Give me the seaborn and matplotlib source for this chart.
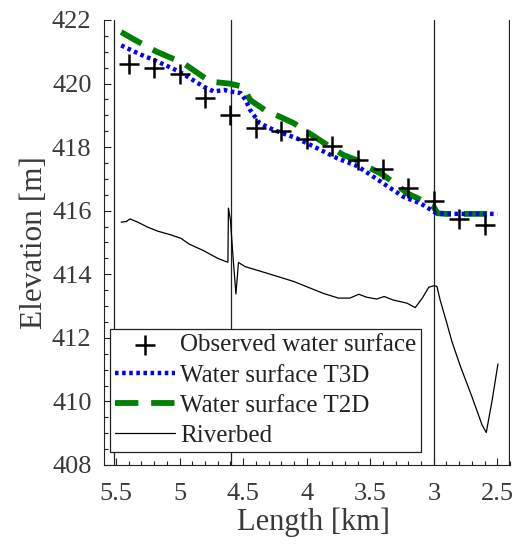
import numpy as np
import pandas as pd
import seaborn as sns
from matplotlib import pyplot as plt
from matplotlib.ticker import MultipleLocator

# observed water surface
obs_km = [5.4, 5.2, 5.0, 4.8, 4.6, 4.4, 4.2, 4.0, 3.8, 3.6, 3.4, 3.2, 3.0, 2.8, 2.6]
obs_elev = [420.6, 420.5, 420.3, 419.55, 419.0, 418.6, 418.5, 418.25, 418.05,
            417.6, 417.3, 416.7, 416.3, 415.75, 415.55]

# Telemac 3D water surface
t3d_km = [5.46, 5.3, 5.2, 5.0, 4.81, 4.73, 4.65, 4.6, 4.52, 4.48, 4.445, 4.37,
          4.26, 4.08, 3.92, 3.76, 3.6, 3.42, 3.24, 3.1, 2.98, 2.9, 2.5]
t3d_elev = [421.2, 420.9, 420.74, 420.37, 419.9, 419.75, 419.8, 419.75, 419.7,
            419.48, 419.17, 418.75, 418.54, 418.28, 417.97, 417.65, 417.4,
            416.92, 416.44, 416.22, 415.92, 415.9, 415.9]

# Telemac 2D water surface
t2d_km = [5.46, 5.36, 5.18, 4.97, 4.76, 4.61, 4.5, 4.445, 4.33, 4.24, 4.1,
          3.92, 3.82, 3.71, 3.6, 3.5, 3.4, 3.29, 3.21, 3.1, 3.01, 2.97, 2.91, 2.5]
t2d_elev = [421.62, 421.39, 421.0, 420.64, 420.06, 420.0, 419.9, 419.48, 419.17,
            419.01, 418.75, 418.28, 418.02, 417.75, 417.58, 417.34, 417.13,
            416.81, 416.55, 416.34, 416.18, 415.92, 415.9, 415.9]

# riverbed profile
bed_km = [5.46, 5.42, 5.39, 5.33, 5.25, 5.175, 5.07, 4.99, 4.925, 4.81, 4.7,
          4.636, 4.62, 4.616, 4.60, 4.58, 4.557, 4.537, 4.484, 4.31, 4.1, 3.97,
          3.87, 3.75, 3.66, 3.59, 3.53, 3.45, 3.39, 3.32, 3.21, 3.146, 3.09,
          3.04, 3.0, 2.975, 2.95, 2.9, 2.857, 2.79, 2.7, 2.62, 2.587, 2.54, 2.495]
bed_elev = [415.64, 415.66, 415.74, 415.64, 415.48, 415.36, 415.24, 415.13,
            414.95, 414.74, 414.5, 414.4, 414.38, 416.08, 415.7, 414.56, 413.38,
            414.37, 414.24, 414.03, 413.77, 413.56, 413.4, 413.25, 413.25,
            413.37, 413.28, 413.22, 413.3, 413.19, 413.09, 412.95, 413.25,
            413.59, 413.64, 413.62, 413.19, 412.5, 411.88, 411.1, 410.15,
            409.26, 409.02, 410.05, 411.18]

# section boundaries
section_km = [5.52, 4.594, 2.997, 2.41]

sns.set_theme(style="ticks")
plt.rcParams['font.family'] = ['Liberation Serif', 'DejaVu Serif']
text_color = '#3a3a3a'

fig = plt.figure(figsize=(5.19, 5.46), dpi=100)
ax = fig.add_axes([0.2004, 0.1484, 0.7823, 0.815])

for k in section_km:
    ax.axvline(k, color='#222222', lw=0.9, zorder=1)

sns.lineplot(x=bed_km, y=bed_elev, ax=ax, color='black', lw=0.9, sort=False,
             label='Riverbed', zorder=2)
sns.lineplot(x=t2d_km, y=t2d_elev, ax=ax, color='green', lw=4.2, sort=False,
             label='Water surface T2D', zorder=3)
sns.lineplot(x=t3d_km, y=t3d_elev, ax=ax, color='blue', lw=3.2, sort=False,
             label='Water surface T3D', zorder=4)
ax.lines[-2].set_dashes([4, 2.2])
ax.lines[-1].set_dashes([0.8, 0.8])
sns.scatterplot(x=obs_km, y=obs_elev, ax=ax, marker='+', s=190, color='black',
                linewidth=1.8, label='Observed water surface', zorder=5)

ax.set_xlim(5.595, 2.4)
ax.set_ylim(408, 422)
ax.set_yticks(np.arange(408, 423, 2))
ax.set_xticks([5.5, 5, 4.5, 4, 3.5, 3, 2.5])
ax.set_xticklabels(['5.5', '5', '4.5', '4', '3.5', '3', '2.5'])
ax.xaxis.set_minor_locator(MultipleLocator(0.1))
ax.yaxis.set_minor_locator(MultipleLocator(0.5))
ax.tick_params(which='both', direction='in', color='#222222', width=0.8,
               labelsize=19, labelcolor=text_color)
ax.tick_params(axis='y', pad=9)
ax.tick_params(axis='x', pad=13)
ax.tick_params(which='major', length=5)
ax.tick_params(which='minor', length=3)
for s in ['top', 'right']:
    ax.spines[s].set_visible(False)
for s in ['left', 'bottom']:
    ax.spines[s].set_color('#222222')
    ax.spines[s].set_linewidth(0.8)

ax.set_xlabel('Length [km]', fontsize=22, color=text_color, labelpad=7)
ax.xaxis.set_label_coords(0.515, -0.095)
ax.set_ylabel('Elevation [m]', fontsize=22.5, color=text_color, labelpad=2)

handles, labels = ax.get_legend_handles_labels()
order = [labels.index(n) for n in ['Observed water surface', 'Water surface T3D',
                                   'Water surface T2D', 'Riverbed']]
leg = ax.legend([handles[i] for i in order], [labels[i] for i in order],
                loc='upper left', bbox_to_anchor=(0.0148, 0.3056), fontsize=18,
                frameon=True, fancybox=False, framealpha=1, edgecolor='#222222',
                borderpad=0.2, labelspacing=0.31, handlelength=2.4,
                handletextpad=0.2, borderaxespad=0)
leg.get_frame().set_linewidth(0.9)
for t in leg.get_texts():
    t.set_color('#222222')

fig.savefig('out.png', dpi=100)
